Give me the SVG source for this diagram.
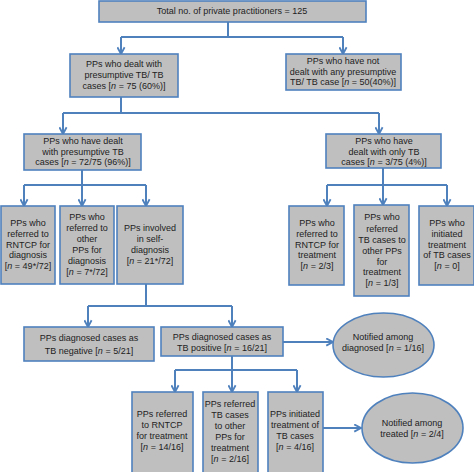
<svg xmlns="http://www.w3.org/2000/svg" width="474" height="472" viewBox="0 0 474 472">
<defs>
<style>
.box{fill:#bfbfbf;stroke:#4f81bd;stroke-width:1.6}
.c{fill:none;stroke:#4f81bd;stroke-width:2}
.a{marker-end:url(#ah)}
text{font-family:"Liberation Sans",Arial,sans-serif;font-size:9px;fill:#222222;text-anchor:middle}
.i{font-style:italic}
</style>
<marker id="ah" viewBox="0 0 10 10" refX="8.5" refY="5" markerWidth="9" markerHeight="9" markerUnits="userSpaceOnUse" orient="auto">
<path d="M1,1 L8.5,5 L1,9" fill="none" stroke="#4f81bd" stroke-width="2"/>
</marker>
</defs>
<rect width="474" height="472" fill="#ffffff"/>
<g id="connectors">
<path class="c" d="M228,22 V37 M121,37 H343"/>
<path class="c a" d="M121,37 V54"/>
<path class="c a" d="M343,37 V54"/>
<path class="c" d="M121,97 V113 M63,113 H379"/>
<path class="c a" d="M63,113 V134"/>
<path class="c a" d="M379,113 V134"/>
<path class="c" d="M82,170 V185 M24,185 H146"/>
<path class="c a" d="M24,185 V206"/>
<path class="c a" d="M82,185 V206"/>
<path class="c a" d="M146,185 V206"/>
<path class="c" d="M383,168 V185 M327,185 H447"/>
<path class="c a" d="M327,185 V206"/>
<path class="c a" d="M383,185 V205"/>
<path class="c a" d="M447,185 V206"/>
<path class="c" d="M146,284 V306 M88,306 H232"/>
<path class="c a" d="M88,306 V327"/>
<path class="c a" d="M232,306 V327"/>
<path class="c a" d="M283,342 H333"/>
<path class="c" d="M232,356 V370 M175,370 H297"/>
<path class="c a" d="M175,370 V392"/>
<path class="c a" d="M232,370 V392"/>
<path class="c a" d="M297,370 V392"/>
<path class="c a" d="M323,428 H361"/>
</g>
<g id="n_total">
<rect class="box" x="99" y="1" width="267" height="21"/>
<text x="232" y="14">Total no. of private practitioners = 125</text>
</g>
<g id="n_dealt">
<rect class="box" x="70" y="54" width="108" height="43"/>
<text x="124" y="67">PPs who dealt with</text>
<text x="124" y="78">presumptive TB/ TB</text>
<text x="124" y="89">cases [<tspan class="i">n</tspan> = 75 (60%)]</text>
</g>
<g id="n_notdealt">
<rect class="box" x="286" y="54" width="115" height="36"/>
<text x="343" y="64">PPs who have not</text>
<text x="343" y="75">dealt with any presumptive</text>
<text x="343" y="85">TB/ TB case [<tspan class="i">n</tspan> = 50(40%)]</text>
</g>
<g id="n_presumptive">
<rect class="box" x="24" y="134" width="117" height="36"/>
<text x="83" y="144">PPs who have dealt</text>
<text x="83" y="154.5">with presumptive TB</text>
<text x="83" y="165">cases [<tspan class="i">n</tspan> = 72/75 (96%)]</text>
</g>
<g id="n_onlytb">
<rect class="box" x="326" y="134" width="115" height="34"/>
<text x="384" y="144">PPs who have</text>
<text x="384" y="154.5">dealt with only TB</text>
<text x="384" y="165">cases [<tspan class="i">n</tspan> = 3/75 (4%)]</text>
</g>
<g id="n_rntcp_diag">
<rect class="box" x="1" y="206" width="54" height="78"/>
<text x="28" y="226">PPs who</text>
<text x="28" y="237">referred to</text>
<text x="28" y="247.5">RNTCP for</text>
<text x="28" y="258">diagnosis</text>
<text x="28" y="269">[<tspan class="i">n</tspan> = 49*/72]</text>
</g>
<g id="n_other_diag">
<rect class="box" x="60" y="206" width="54" height="78"/>
<text x="87" y="220">PPs who</text>
<text x="87" y="231">referred to</text>
<text x="87" y="242">other</text>
<text x="87" y="253">PPs for</text>
<text x="87" y="264">diagnosis</text>
<text x="87" y="275">[<tspan class="i">n</tspan> = 7*/72]</text>
</g>
<g id="n_self_diag">
<rect class="box" x="117" y="206" width="66" height="78"/>
<text x="150" y="231">PPs involved</text>
<text x="150" y="242">in self-</text>
<text x="150" y="253">diagnosis</text>
<text x="150" y="264">[<tspan class="i">n</tspan> = 21*/72]</text>
</g>
<g id="n_rntcp_treat">
<rect class="box" x="289" y="206" width="55" height="79"/>
<text x="317" y="226">PPs who</text>
<text x="317" y="237">referred to</text>
<text x="317" y="247.5">RNTCP for</text>
<text x="317" y="258">treatment</text>
<text x="317" y="269">[<tspan class="i">n</tspan> = 2/3]</text>
</g>
<g id="n_other_treat">
<rect class="box" x="354" y="205" width="55" height="91"/>
<text x="382" y="220">PPs who</text>
<text x="382" y="231.5">referred</text>
<text x="382" y="242.5">TB cases to</text>
<text x="382" y="253.5">other PPs</text>
<text x="382" y="264.5">for</text>
<text x="382" y="275">treatment</text>
<text x="382" y="285.5">[<tspan class="i">n</tspan> = 1/3]</text>
</g>
<g id="n_init_treat">
<rect class="box" x="419" y="206" width="55" height="79"/>
<text x="447" y="226">PPs who</text>
<text x="447" y="237">initiated</text>
<text x="447" y="247.5">treatment</text>
<text x="447" y="258">of TB cases</text>
<text x="447" y="269">[<tspan class="i">n</tspan> = 0]</text>
</g>
<g id="n_negative">
<rect class="box" x="24" y="327" width="130" height="34"/>
<text x="89" y="341">PPs diagnosed cases as</text>
<text x="89" y="354">TB negative [<tspan class="i">n</tspan> = 5/21]</text>
</g>
<g id="n_positive">
<rect class="box" x="161" y="327" width="122" height="29"/>
<text x="222" y="340">PPs diagnosed cases as</text>
<text x="222" y="351">TB positive [<tspan class="i">n</tspan> = 16/21]</text>
</g>
<g id="n_notified_diag">
<ellipse class="box" cx="383.5" cy="345" rx="50.5" ry="32"/>
<text x="383" y="340">Notified among</text>
<text x="383" y="351">diagnosed [<tspan class="i">n</tspan> = 1/16]</text>
</g>
<g id="n_rntcp_treat2">
<rect class="box" x="132" y="392" width="61" height="81"/>
<text x="162" y="417">PPs referred</text>
<text x="162" y="428">to RNTCP</text>
<text x="162" y="439">for treatment</text>
<text x="162" y="450">[<tspan class="i">n</tspan> = 14/16]</text>
</g>
<g id="n_other_treat2">
<rect class="box" x="203" y="392" width="55" height="81"/>
<text x="230" y="407">PPs referred</text>
<text x="230" y="418">TB cases</text>
<text x="230" y="429">to other</text>
<text x="230" y="440">PPs for</text>
<text x="230" y="451">treatment</text>
<text x="230" y="462">[<tspan class="i">n</tspan> = 2/16]</text>
</g>
<g id="n_init_treat2">
<rect class="box" x="268" y="392" width="55" height="81"/>
<text x="295" y="417">PPs initiated</text>
<text x="295" y="428">treatment of</text>
<text x="295" y="439">TB cases</text>
<text x="295" y="450">[<tspan class="i">n</tspan> = 4/16]</text>
</g>
<g id="n_notified_treat">
<ellipse class="box" cx="412.5" cy="428" rx="50.5" ry="35"/>
<text x="412" y="426">Notified among</text>
<text x="412" y="436.5">treated [<tspan class="i">n</tspan> = 2/4]</text>
</g>
</svg>
